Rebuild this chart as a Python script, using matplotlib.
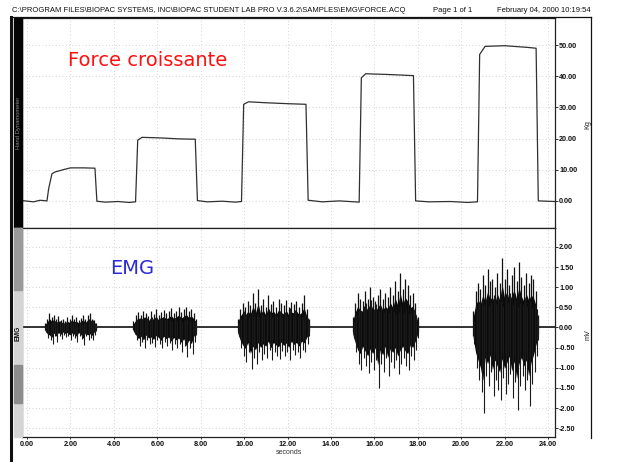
import numpy as np
import matplotlib
matplotlib.use("Agg")
import matplotlib.pyplot as plt
from matplotlib.lines import Line2D
from matplotlib.patches import Rectangle

# ---- data -----------------------------------------------------------------
# Hand dynamometer force (Kg): breakpoints of the recorded trace
force_t = [-0.23, 0.3, 0.6, 0.92, 1.0, 1.15, 1.3, 1.66, 2.0, 2.6, 3.13, 3.22,
           3.6, 4.2, 4.7, 5.0, 5.1, 5.3, 6.2, 7.0, 7.75, 7.85, 8.3, 9.0, 9.6,
           9.88, 9.98, 10.2, 11.0, 12.0, 12.85, 12.95, 13.6, 14.4, 15.3, 15.4,
           15.6, 16.5, 17.2, 17.8, 17.9, 18.5, 19.5, 20.3, 20.75, 20.85, 21.1,
           22.0, 23.0, 23.45, 23.55, 24.32]
force_kg = [0.1, -0.3, 0.2, 0.0, 4.0, 8.7, 9.3, 10.0, 10.6, 10.6, 10.5, -0.1,
            -0.4, -0.2, -0.5, -0.3, 19.5, 20.4, 20.2, 19.9, 19.8, 0.1, -0.3,
            -0.1, -0.4, -0.2, 31.0, 31.8, 31.5, 31.2, 31.0, 0.2, -0.3, 0.0,
            -0.4, 39.5, 40.8, 40.6, 40.4, 40.2, 0.0, -0.3, -0.2, -0.5, -0.3,
            47.0, 49.6, 49.8, 49.3, 49.0, 0.0, -0.2]

# EMG bursts (mV): start/end time and spike peaks
burst_start = [0.83, 4.90, 9.70, 15.00, 20.55]
burst_end = [3.20, 7.80, 13.00, 18.00, 23.55]

emg_pos = [
    [0.12, 0.22, 0.35, 0.25, 0.30, 0.20, 0.28, 0.18, 0.22, 0.15, 0.25, 0.20,
     0.30, 0.22, 0.26, 0.18, 0.24, 0.32, 0.20, 0.30, 0.36, 0.22, 0.18, 0.10],
    [0.15, 0.30, 0.38, 0.30, 0.42, 0.35, 0.28, 0.40, 0.33, 0.45, 0.30, 0.38,
     0.44, 0.35, 0.40, 0.48, 0.36, 0.42, 0.50, 0.38, 0.45, 0.52, 0.40, 0.46,
     0.35, 0.20],
    [0.20, 0.45, 0.60, 0.50, 0.65, 0.55, 0.85, 0.60, 0.96, 0.55, 0.70, 0.50,
     0.80, 0.58, 0.65, 0.52, 0.70, 0.60, 0.55, 0.68, 0.50, 0.62, 0.58, 0.66,
     0.52, 0.60, 0.80, 0.45, 0.20],
    [0.25, 0.60, 0.85, 0.70, 0.65, 0.90, 0.70, 1.00, 0.75, 0.65, 0.80, 0.95,
     0.70, 0.85, 0.75, 1.00, 0.80, 1.16, 0.90, 1.36, 0.95, 1.20, 1.05, 0.80,
     0.85, 0.60, 0.25],
    [0.40, 0.90, 1.10, 0.95, 1.30, 1.05, 1.45, 1.15, 1.20, 1.00, 1.35, 1.10,
     1.73, 1.20, 1.45, 1.05, 1.30, 1.50, 1.15, 1.62, 1.25, 1.05, 1.35, 1.10,
     1.30, 1.20, 0.90, 0.30],
]
emg_neg = [
    [-0.12, -0.25, -0.30, -0.40, -0.22, -0.35, -0.20, -0.28, -0.18, -0.24,
     -0.20, -0.30, -0.22, -0.26, -0.35, -0.20, -0.28, -0.44, -0.22, -0.30,
     -0.25, -0.32, -0.18, -0.10],
    [-0.15, -0.30, -0.45, -0.35, -0.50, -0.30, -0.42, -0.38, -0.48, -0.32,
     -0.40, -0.52, -0.35, -0.45, -0.38, -0.55, -0.40, -0.50, -0.42, -0.60,
     -0.45, -0.74, -0.50, -0.65, -0.35, -0.18],
    [-0.20, -0.50, -0.70, -0.85, -0.60, -1.04, -0.75, -0.90, -0.60, -0.80,
     -0.65, -0.75, -0.55, -0.82, -0.60, -0.70, -0.78, -0.58, -0.72, -0.62,
     -0.80, -0.55, -0.68, -0.60, -0.75, -0.55, -0.62, -0.40, -0.20],
    [-0.25, -0.60, -0.90, -1.05, -0.75, -0.95, -1.14, -0.85, -1.05, -0.80,
     -1.50, -0.90, -1.10, -0.75, -1.20, -0.85, -1.00, -0.80, -1.15, -0.90,
     -0.75, -0.95, -1.05, -0.70, -0.80, -0.55, -0.25],
    [-0.40, -1.00, -1.30, -1.60, -2.12, -1.20, -1.45, -1.10, -1.70, -1.30,
     -1.55, -1.80, -1.25, -1.65, -1.40, -1.15, -1.75, -1.35, -2.05, -1.45,
     -1.20, -1.55, -1.30, -1.95, -1.40, -1.10, -0.70, -0.30],
]

x_ticks = [0, 2, 4, 6, 8, 10, 12, 14, 16, 18, 20, 22, 24]
force_ticks = [0, 10, 20, 30, 40, 50]
emg_ticks = [2.0, 1.5, 1.0, 0.5, 0.0, -0.5, -1.0, -1.5, -2.0, -2.5]

header_path = ("C:\\PROGRAM FILES\\BIOPAC SYSTEMS, INC\\BIOPAC STUDENT LAB PRO "
               "V.3.6.2\\SAMPLES\\EMG\\FORCE.ACQ")
header_page = "Page 1 of 1"
header_date = "February 04, 2000 10:19:54"

# ---- figure ---------------------------------------------------------------
W, H = 620, 462
fig = plt.figure(figsize=(W / 100, H / 100), dpi=100)
fig.patch.set_facecolor("white")

narrow = ["Liberation Sans Narrow", "Liberation Sans", "DejaVu Sans"]


def fx(px):
    return px / W


def fy(py):
    return 1 - py / H


ax1 = fig.add_axes([fx(22), fy(228), fx(555) - fx(22), fy(18) - fy(228)])
ax2 = fig.add_axes([fx(22), fy(437), fx(555) - fx(22), fy(228) - fy(437)])

xlim = (-0.23, 24.32)
grid_kw = dict(color="#c4c4c4", linestyle=(0, (1, 3)), linewidth=0.6)

for ax in (ax1, ax2):
    ax.set_xlim(*xlim)
    ax.set_xticks(x_ticks)
    ax.yaxis.tick_right()
    ax.grid(True, **grid_kw)
    ax.set_axisbelow(True)
    for sp in ax.spines.values():
        sp.set_linewidth(0.9)
        sp.set_color("#222222")
    ax.tick_params(axis="y", which="both", direction="out", length=2,
                   width=0.6, pad=1, labelsize=5.2, colors="#111111")

# Force channel
ax1.plot(force_t, force_kg, color="#303030", linewidth=0.9)
ax1.set_ylim(-8.7, 58.7)
ax1.set_yticks(force_ticks)
ax1.set_yticklabels([f"{v:.2f}" for v in force_ticks],
                    fontfamily=narrow, fontweight="bold")
ax1.tick_params(axis="x", length=0, labelbottom=False)

# EMG channel
ax2.axhline(0, color="#111111", linewidth=1.2, zorder=2)
for s, e, up, dn in zip(burst_start, burst_end, emg_pos, emg_neg):
    up = np.asarray(up)
    dn = np.asarray(dn)
    span = e - s
    tu = np.linspace(s, e, len(up))
    td = np.clip(np.linspace(s, e, len(dn)) + 0.5 * span / len(dn), s, e)
    # dense body of the burst, following the spike envelope
    ax2.fill_between(tu, 0.62 * dn, 0.62 * up, color="#0a0a0a",
                     linewidth=0, zorder=3)
    ax2.vlines(tu, 0.5 * dn, up, color="#111111", linewidth=0.9, zorder=3)
    ax2.vlines(td, dn, 0.5 * up[::-1], color="#1a1a1a", linewidth=0.8,
               zorder=3)
ax2.set_ylim(-2.72, 2.47)
ax2.set_yticks(emg_ticks)
ax2.set_yticklabels([f"{v:.2f}" for v in emg_ticks],
                    fontfamily=narrow, fontweight="bold")
ax2.set_xticks(x_ticks)
ax2.set_xticklabels([f"{v:.2f}" for v in x_ticks],
                    fontfamily=narrow, fontweight="bold")
ax2.tick_params(axis="x", length=1.5, width=0.6, pad=1.5, labelsize=5.2,
                colors="#111111")
ax2.set_xlabel("seconds", fontsize=5, color="#333333", labelpad=0.5,
               fontfamily=narrow)

# Page frame
frame_kw = dict(transform=fig.transFigure, color="#111111")
fig.add_artist(Line2D([fx(11), fx(11)], [fy(17), 0], linewidth=2.2, **frame_kw))
fig.add_artist(Line2D([fx(11), fx(591)], [fy(17), fy(17)], linewidth=0.9,
                      **frame_kw))
fig.add_artist(Line2D([fx(591), fx(591)], [fy(17), fy(438)], linewidth=0.9,
                      **frame_kw))

# Channel colour bars
fig.add_artist(Rectangle((fx(14), fy(228)), fx(22) - fx(14), fy(18) - fy(228),
                         transform=fig.transFigure, color="#050505"))
fig.add_artist(Rectangle((fx(14), fy(437)), fx(22) - fx(14), fy(228) - fy(437),
                         transform=fig.transFigure, color="#d4d4d4"))
fig.add_artist(Rectangle((fx(14), fy(290)), fx(22) - fx(14), fy(228) - fy(290),
                         transform=fig.transFigure, color="#9a9a9a"))
fig.add_artist(Rectangle((fx(14), fy(403)), fx(22) - fx(14), fy(365) - fy(403),
                         transform=fig.transFigure, color="#8c8c8c"))

fig.text(fx(18.5), fy(123), "Hand Dynamometer", rotation=90, ha="center",
         va="center", fontsize=4.2, color="#8a8a8a", fontfamily=narrow)
fig.text(fx(18.5), fy(333), "EMG", rotation=90, ha="center", va="center",
         fontsize=4.8, color="#111111", fontweight="bold", fontfamily=narrow)

# Units
fig.text(fx(588), fy(125), "Kg", rotation=90, ha="center", va="center",
         fontsize=5.2, color="#222222", fontfamily=narrow)
fig.text(fx(588), fy(335), "mV", rotation=90, ha="center", va="center",
         fontsize=5.2, color="#222222", fontfamily=narrow)

# Header line
fig.text(fx(12), fy(10), header_path, ha="left", va="center", fontsize=5.5,
         color="#111111", fontfamily=narrow)
fig.text(fx(433), fy(10), header_page, ha="left", va="center", fontsize=5.5,
         color="#111111", fontfamily=narrow)
fig.text(fx(591), fy(10), header_date, ha="right", va="center", fontsize=5.5,
         color="#111111", fontfamily=narrow)

# Annotations
fig.text(fx(68), fy(60), "Force croissante", ha="left", va="center",
         fontsize=14, color="#ff1010")
fig.text(fx(110), fy(268), "EMG", ha="left", va="center", fontsize=14,
         color="#2a2ad8")

fig.savefig("out.png", dpi=100, facecolor="white")
